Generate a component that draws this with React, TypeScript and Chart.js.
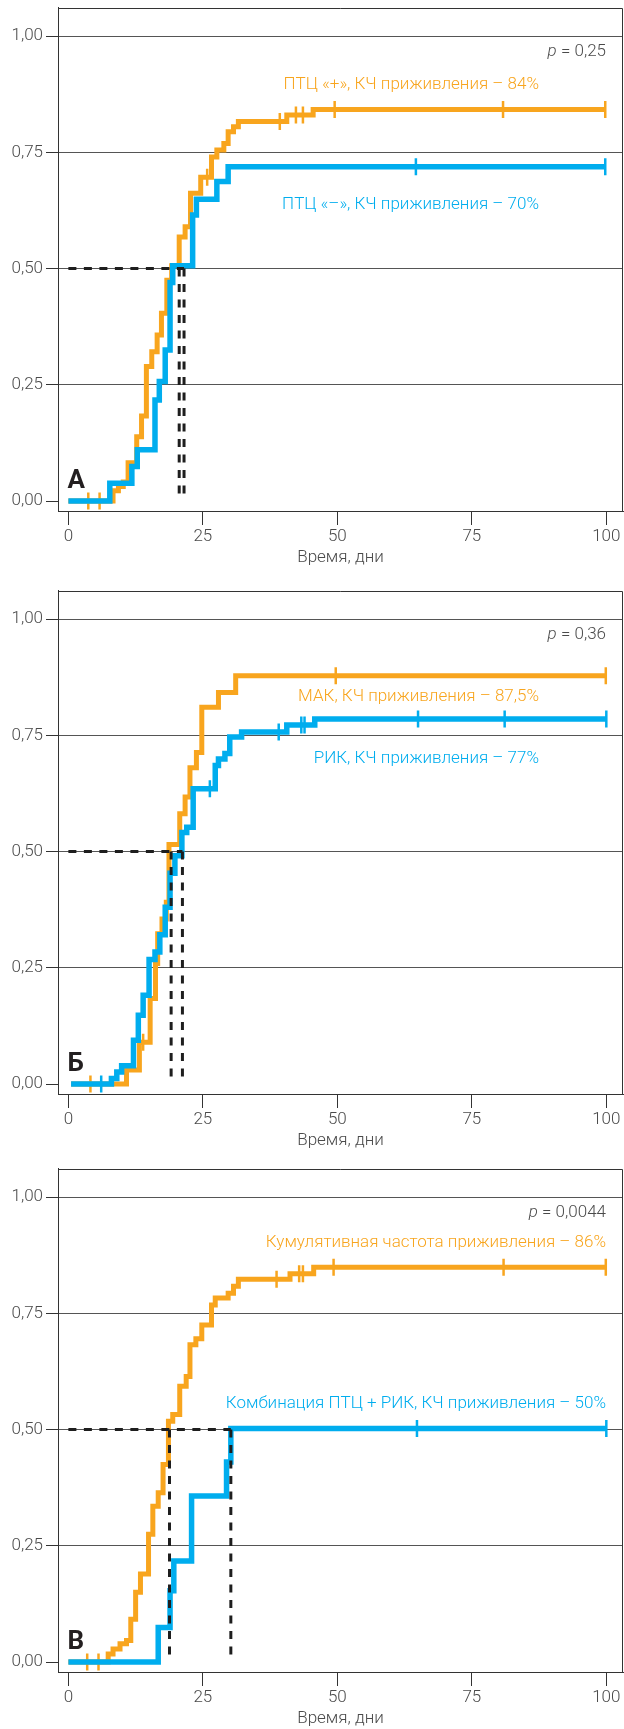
import React, { useEffect, useRef } from 'react';
import { Chart, registerables } from 'chart.js';

Chart.register(...registerables);

const ORANGE = '#F8A51E';
const BLUE = '#00ADEE';
const DARK = '#1E1E1E';
const AXIS = '#333333';
const GRID = '#555555';
const TEXT = '#4A4A4A';
const FONT = 'Roboto';

// ---- axes ----
const xTicks = [0, 25, 50, 75, 100];
const yTicks = [0, 0.25, 0.5, 0.75, 1];
const yTickLabels = ['0,00', '0,25', '0,50', '0,75', '1,00'];
const xAxisTitle = 'Время, дни';

// ---- Panel A ----
const aPosDays = [0, 8.3, 9.3, 10.2, 11.1, 12.7, 13.6, 14.5, 15.5, 16.5, 17.3, 18.3, 19.2, 20.6, 21.7, 22.7, 24.6, 26.6, 27.6, 28.9, 29.7, 30.7, 31.6, 40.6, 45.5, 99.8];
const aPosCI = [0, 0.022, 0.031, 0.041, 0.082, 0.138, 0.183, 0.289, 0.321, 0.357, 0.404, 0.475, 0.506, 0.568, 0.59, 0.662, 0.696, 0.74, 0.755, 0.769, 0.794, 0.805, 0.816, 0.83, 0.842, 0.842];
const aPosCensDays = [3.7, 5.8, 25.8, 39.3, 42.3, 43.6, 49.5, 80.8, 99.8];
const aPosCensCI = [0, 0, 0.696, 0.816, 0.83, 0.83, 0.842, 0.842, 0.842];
const aNegDays = [0, 7.7, 11.8, 12.8, 16.1, 16.9, 18.0, 18.9, 19.4, 23.1, 23.8, 27.6, 29.7, 99.8];
const aNegCI = [0, 0.038, 0.074, 0.11, 0.217, 0.257, 0.325, 0.47, 0.506, 0.615, 0.649, 0.687, 0.719, 0.719];
const aNegCensDays = [64.6, 99.8];
const aNegCensCI = [0.719, 0.719];
const aMedians = [20.6, 21.5];

// ---- Panel Б ----
const bMakDays = [0.5, 10.8, 13.2, 15.2, 16.2, 16.6, 17.4, 18.2, 18.7, 20.7, 21.7, 22.6, 23.8, 24.8, 27.9, 31.1, 99.9];
const bMakCI = [0, 0.03, 0.09, 0.184, 0.259, 0.323, 0.355, 0.391, 0.515, 0.581, 0.617, 0.68, 0.713, 0.81, 0.842, 0.878, 0.878];
const bMakCensDays = [4.1, 13.9, 49.7, 99.9];
const bMakCensCI = [0, 0.09, 0.878, 0.878];
const bRikDays = [0.5, 8.0, 9.0, 9.9, 12.1, 13.0, 13.9, 15.0, 16.1, 17.0, 18.0, 18.9, 19.8, 21.1, 22.0, 23.2, 27.3, 27.9, 29.1, 30.0, 32.2, 40.6, 45.8, 100];
const bRikCI = [0, 0.012, 0.026, 0.039, 0.094, 0.148, 0.191, 0.268, 0.284, 0.321, 0.38, 0.453, 0.491, 0.541, 0.552, 0.635, 0.685, 0.699, 0.711, 0.746, 0.757, 0.772, 0.785, 0.785];
const bRikCensDays = [6.1, 26.3, 39.1, 43.3, 43.9, 65, 81.1, 100];
const bRikCensCI = [0, 0.635, 0.757, 0.772, 0.772, 0.785, 0.785, 0.785];
const bMedians = [19.1, 21.2];

// ---- Panel В ----
const cAllDays = [0, 7.4, 8.3, 9.6, 10.8, 11.6, 12.5, 13.4, 14.9, 15.7, 16.7, 17.6, 18.6, 19.4, 20.7, 21.9, 22.6, 23.7, 24.8, 26.6, 27.3, 29.7, 30.7, 31.6, 41.2, 45.6, 99.9];
const cAllCI = [0, 0.017, 0.028, 0.039, 0.046, 0.092, 0.15, 0.189, 0.275, 0.335, 0.364, 0.425, 0.518, 0.532, 0.593, 0.614, 0.682, 0.695, 0.725, 0.768, 0.783, 0.793, 0.808, 0.823, 0.835, 0.849, 0.849];
const cAllCensDays = [3.5, 5.6, 38.7, 42.9, 43.6, 49.3, 80.9, 99.9];
const cAllCensCI = [0, 0, 0.823, 0.835, 0.835, 0.849, 0.849, 0.849];
const cComboDays = [0, 16.7, 18.9, 19.6, 22.9, 29.4, 30.2, 100];
const cComboCI = [0, 0.074, 0.153, 0.217, 0.357, 0.43, 0.502, 0.502];
const cComboCensDays = [64.8, 100];
const cComboCensCI = [0.502, 0.502];
const cMedians = [18.8, 30.2];

// ---- labels ----
const panelLetters = ['А', 'Б', 'В'];
const pValues = ['0,25', '0,36', '0,0044'];
const orangeLabels = [
  'ПТЦ «+», КЧ приживления – 84%',
  'МАК, КЧ приживления – 87,5%',
  'Кумулятивная частота приживления – 86%',
];
const blueLabels = [
  'ПТЦ «–», КЧ приживления – 70%',
  'РИК, КЧ приживления – 77%',
  'Комбинация ПТЦ + РИК, КЧ приживления – 50%',
];

type XY = { x: number; y: number };
const pts = (d: number[], v: number[]): XY[] => d.map((x, i) => ({ x, y: v[i] }));

const panels = [
  {
    top: 0,
    orange: pts(aPosDays, aPosCI), orangeCens: pts(aPosCensDays, aPosCensCI),
    blue: pts(aNegDays, aNegCI), blueCens: pts(aNegCensDays, aNegCensCI),
    medians: aMedians,
    layout: { legendRight: 539, pRight: 606, pBase: 56, orangeBase: 89, blueBase: 209, letterBase: 488 },
  },
  {
    top: 583,
    orange: pts(bMakDays, bMakCI), orangeCens: pts(bMakCensDays, bMakCensCI),
    blue: pts(bRikDays, bRikCI), blueCens: pts(bRikCensDays, bRikCensCI),
    medians: bMedians,
    layout: { legendRight: 539, pRight: 606, pBase: 56, orangeBase: 118, blueBase: 180, letterBase: 488 },
  },
  {
    top: 1161,
    orange: pts(cAllDays, cAllCI), orangeCens: pts(cAllCensDays, cAllCensCI),
    blue: pts(cComboDays, cComboCI), blueCens: pts(cComboCensDays, cComboCensCI),
    medians: cMedians,
    layout: { legendRight: 606, pRight: 606, pBase: 56, orangeBase: 86, blueBase: 247, letterBase: 488 },
  },
];

const CANVAS_W = 624;
const CANVAS_H = 583;

function makeOverlay(idx: number) {
  const lay = panels[idx].layout;
  return {
    id: 'overlay' + idx,
    beforeDatasetsDraw(chart: any) {
      const { ctx, chartArea } = chart;
      ctx.save();
      ctx.strokeStyle = AXIS;
      ctx.lineWidth = 1;
      ctx.beginPath();
      const t = Math.round(chartArea.top) + 0.5;
      const r = Math.round(chartArea.right) - 0.5;
      ctx.moveTo(chartArea.left, t);
      ctx.lineTo(r, t);
      ctx.lineTo(r, chartArea.bottom);
      ctx.stroke();
      ctx.restore();
    },
    afterDraw(chart: any) {
      const { ctx } = chart;
      ctx.save();
      ctx.textBaseline = 'alphabetic';
      ctx.textAlign = 'right';
      ctx.font = `300 17px ${FONT}`;
      ctx.fillStyle = ORANGE;
      ctx.fillText(orangeLabels[idx], lay.legendRight, lay.orangeBase);
      ctx.fillStyle = BLUE;
      ctx.fillText(blueLabels[idx], lay.legendRight, lay.blueBase);
      const rest = ' = ' + pValues[idx];
      ctx.fillStyle = TEXT;
      ctx.fillText(rest, lay.pRight, lay.pBase);
      const w = ctx.measureText(rest).width;
      ctx.font = `italic 300 17px ${FONT}`;
      ctx.fillText('p', lay.pRight - w, lay.pBase);
      ctx.textAlign = 'left';
      ctx.font = `bold 26px ${FONT}`;
      ctx.fillStyle = '#231F20';
      ctx.fillText(panelLetters[idx], chart.scales.x.getPixelForValue(0) - 1, lay.letterBase);
      ctx.restore();
    },
  };
}

function Panel({ idx }: { idx: number }) {
  const ref = useRef<HTMLCanvasElement>(null);
  useEffect(() => {
    const p = panels[idx];
    const medMax = Math.max(...p.medians);
    const dashBase = {
      borderColor: DARK,
      borderWidth: 3,
      borderDash: [8, 7.5],
      pointRadius: 0,
      fill: false,
      order: 0,
    };
    const tickFont = { family: FONT, size: 17, weight: '300' as any };
    const chart = new Chart(ref.current!, {
      type: 'line',
      data: {
        datasets: [
          { ...dashBase, data: [{ x: 0, y: 0.5 }, { x: medMax, y: 0.5 }] },
          { ...dashBase, data: [{ x: p.medians[0], y: 0.5 }, { x: p.medians[0], y: 0 }] },
          { ...dashBase, data: [{ x: p.medians[1], y: 0.5 }, { x: p.medians[1], y: 0 }] },
          {
            data: p.blueCens, showLine: false, pointStyle: 'line', pointRotation: 90,
            pointRadius: 8.5, pointBorderWidth: 2.5, pointBorderColor: BLUE, pointBackgroundColor: BLUE, order: 1,
          },
          {
            data: p.blue, stepped: 'before', borderColor: BLUE, borderWidth: 5.5, pointRadius: 0,
            borderJoinStyle: 'miter', borderCapStyle: 'butt', fill: false, order: 2,
          },
          {
            data: p.orangeCens, showLine: false, pointStyle: 'line', pointRotation: 90,
            pointRadius: 8.5, pointBorderWidth: 2.5, pointBorderColor: ORANGE, pointBackgroundColor: ORANGE, order: 3,
          },
          {
            data: p.orange, stepped: 'before', borderColor: ORANGE, borderWidth: 5, pointRadius: 0,
            borderJoinStyle: 'miter', borderCapStyle: 'butt', fill: false, order: 4,
          },
        ] as any,
      },
      options: {
        animation: false,
        responsive: false,
        devicePixelRatio: 1,
        events: [],
        layout: { autoPadding: false, padding: { top: 7.5, right: 1, left: 0, bottom: 0 } },
        plugins: { legend: { display: false }, tooltip: { enabled: false }, title: { display: false } },
        scales: {
          x: {
            type: 'linear',
            min: -1.93,
            max: 103.1,
            afterBuildTicks: (s: any) => { s.ticks = xTicks.map((v) => ({ value: v })); },
            afterFit: (s: any) => { s.height = 72; s.paddingLeft = 0; s.paddingRight = 0; },
            grid: { drawOnChartArea: false, drawTicks: true, tickLength: 14, tickColor: AXIS, color: AXIS, lineWidth: 1 },
            border: { display: true, color: AXIS, width: 1 },
            ticks: {
              font: tickFont, color: TEXT, padding: 2, maxRotation: 0, minRotation: 0, autoSkip: false,
              callback: (v: any) => String(v),
            },
            title: { display: true, text: xAxisTitle, font: tickFont, color: TEXT, padding: { top: 0, bottom: 15 } },
          },
          y: {
            type: 'linear',
            min: -0.0215,
            max: 1.0613,
            afterBuildTicks: (s: any) => { s.ticks = yTicks.map((v) => ({ value: v })); },
            afterFit: (s: any) => { s.width = 58; s.paddingTop = 0; s.paddingBottom = 0; },
            grid: {
              color: (c: any) => (c.tick && c.tick.value === 0 ? 'rgba(0,0,0,0)' : GRID),
              tickColor: AXIS, tickLength: 12, lineWidth: 1, drawTicks: true,
            },
            border: { display: true, color: AXIS, width: 1 },
            ticks: {
              font: tickFont, color: TEXT, padding: 3, autoSkip: false,
              callback: (v: any) => { const i = yTicks.indexOf(Number(v)); return i >= 0 ? yTickLabels[i] : ''; },
            },
          },
        },
      } as any,
      plugins: [makeOverlay(idx)],
    });
    return () => chart.destroy();
  }, [idx]);
  return (
    <canvas
      ref={ref}
      width={CANVAS_W}
      height={CANVAS_H}
      style={{ position: 'absolute', left: 0, top: panels[idx].top, width: CANVAS_W, height: CANVAS_H, display: 'block' }}
    />
  );
}

export default function App() {
  useEffect(() => {
    document.body.style.margin = '0';
    document.body.style.overflow = 'hidden';
  }, []);
  return (
    <div style={{ position: 'relative', width: 624, height: 1729, overflow: 'hidden', background: '#fff' }}>
      {panels.map((_, i) => <Panel key={i} idx={i} />)}
    </div>
  );
}
